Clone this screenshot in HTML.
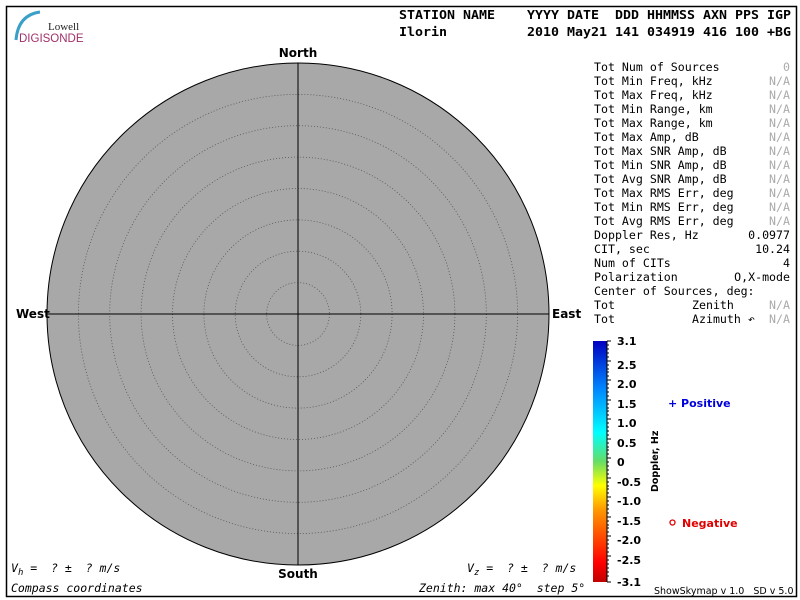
<!DOCTYPE html>
<html><head><meta charset="utf-8"><style>
html,body{margin:0;padding:0;background:#fff;}
svg{display:block}
text{white-space:pre}
.m{font-family:"DejaVu Sans Mono","Liberation Mono",monospace;}
.s{font-family:"DejaVu Sans","Liberation Sans",sans-serif;}
</style></head><body>
<svg width="800" height="600" viewBox="0 0 800 600" xmlns="http://www.w3.org/2000/svg">
<defs>
<linearGradient id="cb" x1="0" y1="1" x2="0" y2="0">
<stop offset="0" stop-color="#c00000"/>
<stop offset="0.08" stop-color="#ff0000"/>
<stop offset="0.3" stop-color="#ff9900"/>
<stop offset="0.4" stop-color="#ffff00"/>
<stop offset="0.5" stop-color="#66dd66"/>
<stop offset="0.62" stop-color="#00ffff"/>
<stop offset="0.8" stop-color="#0088ff"/>
<stop offset="1" stop-color="#0000c0"/>
</linearGradient>
</defs>
<rect x="6.5" y="6.5" width="790" height="590" fill="none" stroke="#000" stroke-width="1.5"/>
<path d="M16 40 Q18 15 40 12" fill="none" stroke="#3aa0c8" stroke-width="3"/>
<text x="48" y="30" font-family="Liberation Serif" font-size="11" fill="#222">Lowell</text>
<text x="19" y="42" font-family="Liberation Sans" font-size="11.5" fill="#a0306a">DIGISONDE</text>
<g class="m" font-size="12.5" font-weight="bold">
<text x="399" y="19" textLength="392" lengthAdjust="spacingAndGlyphs">STATION NAME    YYYY DATE  DDD HHMMSS AXN PPS IGP</text>
<text x="399" y="36" textLength="392" lengthAdjust="spacingAndGlyphs">Ilorin          2010 May21 141 034919 416 100 +BG</text>
</g>
<circle cx="298" cy="314" r="251" fill="#a8a8a8" stroke="#000" stroke-width="1"/>
<g fill="none" stroke="#555" stroke-width="0.8" stroke-dasharray="1,2">
<circle cx="298" cy="314" r="31.4"/><circle cx="298" cy="314" r="62.8"/>
<circle cx="298" cy="314" r="94.1"/><circle cx="298" cy="314" r="125.5"/>
<circle cx="298" cy="314" r="156.9"/><circle cx="298" cy="314" r="188.3"/>
<circle cx="298" cy="314" r="219.6"/>
</g>
<line x1="298" y1="63" x2="298" y2="565" stroke="#000"/>
<line x1="47" y1="314" x2="549" y2="314" stroke="#000"/>
<g class="s" font-size="12" font-weight="bold">
<text x="298" y="57" text-anchor="middle">North</text>
<text x="298" y="578" text-anchor="middle">South</text>
<text x="16" y="318">West</text>
<text x="552" y="318">East</text>
</g>
<g class="m" font-size="11.5" font-style="italic">
<text x="11" y="572">V<tspan font-size="9" dy="3">h</tspan><tspan dy="-3"> =  ? ±  ? m/s</tspan></text>
<text x="467" y="572">V<tspan font-size="9" dy="3">z</tspan><tspan dy="-3"> =  ? ±  ? m/s</tspan></text>
<text x="11" y="592">Compass coordinates</text>
<text x="419" y="592">Zenith: max 40°  step 5°</text>
</g>
<g class="m" font-size="11.6">
<text x="594" y="71">Tot Num of Sources</text>
<text x="594" y="85">Tot Min Freq, kHz</text>
<text x="594" y="99">Tot Max Freq, kHz</text>
<text x="594" y="113">Tot Min Range, km</text>
<text x="594" y="127">Tot Max Range, km</text>
<text x="594" y="141">Tot Max Amp, dB</text>
<text x="594" y="155">Tot Max SNR Amp, dB</text>
<text x="594" y="169">Tot Min SNR Amp, dB</text>
<text x="594" y="183">Tot Avg SNR Amp, dB</text>
<text x="594" y="197">Tot Max RMS Err, deg</text>
<text x="594" y="211">Tot Min RMS Err, deg</text>
<text x="594" y="225">Tot Avg RMS Err, deg</text>
<text x="594" y="239">Doppler Res, Hz</text>
<text x="594" y="253">CIT, sec</text>
<text x="594" y="267">Num of CITs</text>
<text x="594" y="281">Polarization</text>
<text x="594" y="295">Center of Sources, deg:</text>
<text x="594" y="309">Tot</text>
<text x="594" y="323">Tot</text>
<text x="692" y="309">Zenith</text>
<text x="692" y="323">Azimuth ↶</text>
</g>
<g class="m" font-size="11.6" text-anchor="end">
<g fill="#aaa">
<text x="790" y="71">0</text><text x="790" y="85">N/A</text><text x="790" y="99">N/A</text>
<text x="790" y="113">N/A</text><text x="790" y="127">N/A</text><text x="790" y="141">N/A</text>
<text x="790" y="155">N/A</text><text x="790" y="169">N/A</text><text x="790" y="183">N/A</text>
<text x="790" y="197">N/A</text><text x="790" y="211">N/A</text><text x="790" y="225">N/A</text>
<text x="790" y="309">N/A</text><text x="790" y="323">N/A</text>
</g>
<text x="790" y="239">0.0977</text><text x="790" y="253">10.24</text>
<text x="790" y="267">4</text><text x="790" y="281">O,X-mode</text>
</g>
<rect x="593" y="341" width="14" height="241" fill="url(#cb)"/>
<path d="M607 341V582 M607 341h4 M607 361h4 M607 380h4 M607 400h4 M607 419h4 M607 439h4 M607 458h4 M607 478h4 M607 497h4 M607 517h4 M607 536h4 M607 556h4 M607 582h4" stroke="#000" fill="none"/>
<path d="M607 345h2M607 349h2M607 353h2M607 357h2M607 365h2M607 369h2M607 372h2M607 376h2M607 384h2M607 388h2M607 392h2M607 396h2M607 404h2M607 408h2M607 411h2M607 415h2M607 423h2M607 427h2M607 431h2M607 435h2M607 443h2M607 447h2M607 450h2M607 454h2M607 462h2M607 466h2M607 470h2M607 474h2M607 482h2M607 486h2M607 489h2M607 493h2M607 501h2M607 505h2M607 509h2M607 513h2M607 521h2M607 525h2M607 528h2M607 532h2M607 540h2M607 544h2M607 548h2M607 552h2M607 560h2M607 564h2M607 568h2M607 572h2M607 576h2" stroke="#000" fill="none"/>
<g class="s" font-size="11" font-weight="bold">
<text x="617" y="345">3.1</text><text x="617" y="369">2.5</text><text x="617" y="388">2.0</text>
<text x="617" y="408">1.5</text><text x="617" y="427">1.0</text><text x="617" y="447">0.5</text>
<text x="617" y="466">0</text><text x="617" y="486">-0.5</text><text x="617" y="505">-1.0</text>
<text x="617" y="525">-1.5</text><text x="617" y="544">-2.0</text><text x="617" y="564">-2.5</text>
<text x="617" y="586">-3.1</text>
</g>
<text transform="translate(658,492) rotate(-90)" class="s" font-size="9.5" font-weight="bold">Doppler, Hz</text>
<g class="s" font-size="11" font-weight="bold">
<text x="668" y="407" fill="#0000dd">+ Positive</text>
<circle cx="672.5" cy="522.5" r="2.5" fill="none" stroke="#e00000" stroke-width="1.3"/>
<text x="682" y="527" fill="#e00000">Negative</text>
</g>
<text x="654" y="594" class="s" font-size="9.5">ShowSkymap v 1.0   SD v 5.0</text>
</svg>
</body></html>
